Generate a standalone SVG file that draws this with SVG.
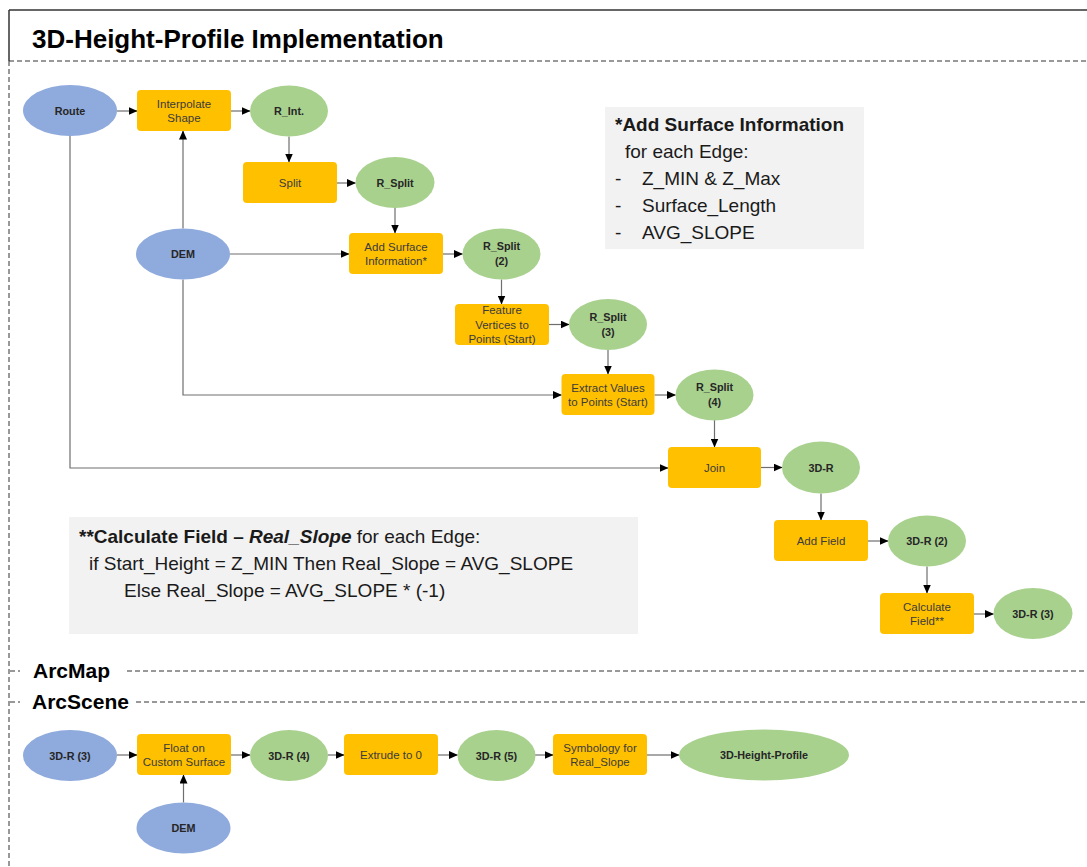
<svg xmlns="http://www.w3.org/2000/svg" width="1087" height="867" viewBox="0 0 1087 867">
<defs>
<marker id="ah" markerUnits="userSpaceOnUse" markerWidth="9" markerHeight="8" refX="8.5" refY="4" orient="auto">
<path d="M0,0 L9,4 L0,8 Z" fill="#000"/>
</marker>
<style>
.bl{fill:#8faadc}
.gr{fill:#a9d18e}
.or{fill:#ffc000}
.tr{font-family:"Liberation Sans",Arial,sans-serif;font-size:11.5px;fill:#3b3b3b;text-anchor:middle}
.te{font-family:"Liberation Sans",Arial,sans-serif;font-size:10.8px;font-weight:bold;fill:#262626;text-anchor:middle}
.cn line,.cn path{stroke:#6e6e6e;stroke-width:1.2;fill:none;marker-end:url(#ah)}
.note{fill:#f2f2f2}
.nt{font-family:"Liberation Sans",Arial,sans-serif;font-size:19px;fill:#1a1a1a}
.sec{font-family:"Liberation Sans",Arial,sans-serif;font-size:21px;font-weight:bold;fill:#000}
.dl{stroke:#333;stroke-width:1;stroke-dasharray:5,3;fill:none}
</style>
</defs>
<rect width="1087" height="867" fill="#fff"/>
<!-- frame -->
<g id="frame">
<line x1="9" y1="10" x2="1087" y2="10" stroke="#333" stroke-width="1.5"/>
<line x1="9" y1="10" x2="9" y2="61" stroke="#333" stroke-width="1.5"/>
<line class="dl" x1="9" y1="61" x2="9" y2="867"/>
<line class="dl" x1="9" y1="61" x2="1087" y2="61"/>
<text x="32" y="48" font-family="Liberation Sans,Arial,sans-serif" font-size="26" font-weight="bold" fill="#000">3D-Height-Profile Implementation</text>
<line class="dl" x1="10" y1="671" x2="20" y2="671"/>
<line class="dl" x1="127" y1="671" x2="1087" y2="671"/>
<text class="sec" x="33" y="678">ArcMap</text>
<line class="dl" x1="10" y1="702" x2="20" y2="702"/>
<line class="dl" x1="136" y1="702" x2="1087" y2="702"/>
<text class="sec" x="32" y="709">ArcScene</text>
</g>
<!-- notes -->
<g id="note-surface">
<rect class="note" x="605" y="107" width="259" height="142"/>
<text class="nt" x="615" y="131" font-weight="bold">*Add Surface Information</text>
<text class="nt" x="625" y="158">for each Edge:</text>
<text class="nt" x="615" y="185">-</text><text class="nt" x="642" y="185">Z_MIN &amp; Z_Max</text>
<text class="nt" x="615" y="212">-</text><text class="nt" x="642" y="212">Surface_Length</text>
<text class="nt" x="615" y="239">-</text><text class="nt" x="642" y="239">AVG_SLOPE</text>
</g>
<g id="note-calc">
<rect class="note" x="69" y="517" width="569" height="117"/>
<text class="nt" x="79" y="543"><tspan font-weight="bold">**Calculate Field – </tspan><tspan font-weight="bold" font-style="italic">Real_Slope</tspan><tspan> for each Edge:</tspan></text>
<text class="nt" x="89" y="570">if Start_Height = Z_MIN Then Real_Slope = AVG_SLOPE</text>
<text class="nt" x="124" y="597">Else Real_Slope = AVG_SLOPE * (-1)</text>
</g>
<!-- connectors -->
<g id="connectors" class="cn">
<line x1="117" y1="111" x2="137" y2="111"/>
<line x1="231" y1="111" x2="250" y2="111"/>
<line x1="289" y1="136.5" x2="289" y2="162"/>
<line x1="337" y1="183" x2="355.5" y2="183"/>
<line x1="395" y1="208" x2="395" y2="233"/>
<line x1="183" y1="228.5" x2="183" y2="131"/>
<line x1="230" y1="254" x2="349" y2="254"/>
<line x1="443" y1="254" x2="462.5" y2="254"/>
<line x1="501.5" y1="279.5" x2="501.5" y2="304"/>
<line x1="549" y1="324.5" x2="569" y2="324.5"/>
<line x1="608" y1="350" x2="608" y2="374"/>
<path d="M183,279.5 V395 H561.5"/>
<line x1="654.5" y1="395" x2="675.5" y2="395"/>
<line x1="714.5" y1="420" x2="714.5" y2="447"/>
<path d="M70,136 V468 H668"/>
<line x1="761" y1="467.5" x2="782" y2="467.5"/>
<line x1="821" y1="493.5" x2="821" y2="520"/>
<line x1="868" y1="541" x2="888" y2="541"/>
<line x1="927" y1="566.5" x2="927" y2="593"/>
<line x1="974" y1="614" x2="993.5" y2="614"/>
<line x1="117" y1="755" x2="137" y2="755"/>
<line x1="231" y1="755" x2="250" y2="755"/>
<line x1="328" y1="755" x2="344" y2="755"/>
<line x1="438" y1="755" x2="457.5" y2="755"/>
<line x1="535" y1="755" x2="553" y2="755"/>
<line x1="647" y1="755" x2="679" y2="755"/>
<line x1="183.5" y1="802.5" x2="183.5" y2="775"/>
</g>
<!-- nodes -->
<g id="route"><ellipse class="bl" cx="70" cy="110.5" rx="47" ry="25.5"/><text class="te" x="70" y="114.5">Route</text></g>
<g id="interpolate"><rect class="or" x="137" y="90" width="94" height="41" rx="4"/><text class="tr" x="184" y="107.5">Interpolate</text><text class="tr" x="184" y="122">Shape</text></g>
<g id="r-int"><ellipse class="gr" cx="289" cy="111" rx="39" ry="25.5"/><text class="te" x="289" y="115">R_Int.</text></g>
<g id="split"><rect class="or" x="243" y="162" width="94" height="41" rx="4"/><text class="tr" x="290" y="186.5">Split</text></g>
<g id="r-split"><ellipse class="gr" cx="395" cy="182.5" rx="39.5" ry="25.5"/><text class="te" x="395" y="186.5">R_Split</text></g>
<g id="dem"><ellipse class="bl" cx="183" cy="254" rx="47" ry="25.5"/><text class="te" x="183" y="258">DEM</text></g>
<g id="add-surface"><rect class="or" x="349" y="233" width="94" height="41" rx="4"/><text class="tr" x="396" y="250.5">Add Surface</text><text class="tr" x="396" y="265">Information*</text></g>
<g id="r-split-2"><ellipse class="gr" cx="501.5" cy="254" rx="39" ry="25.5"/><text class="te" x="501.5" y="250.3">R_Split</text><text class="te" x="501.5" y="265.3">(2)</text></g>
<g id="feature-vertices"><rect class="or" x="455" y="304" width="94" height="41" rx="4"/><text class="tr" x="502" y="314">Feature</text><text class="tr" x="502" y="328.5">Vertices  to</text><text class="tr" x="502" y="343">Points (Start)</text></g>
<g id="r-split-3"><ellipse class="gr" cx="608" cy="324.5" rx="39" ry="25.5"/><text class="te" x="608" y="320.8">R_Split</text><text class="te" x="608" y="335.8">(3)</text></g>
<g id="extract"><rect class="or" x="561.5" y="374" width="93" height="41" rx="4"/><text class="tr" x="608" y="391.5">Extract Values</text><text class="tr" x="608" y="406">to Points (Start)</text></g>
<g id="r-split-4"><ellipse class="gr" cx="714.5" cy="395" rx="39" ry="25.5"/><text class="te" x="714.5" y="391.3">R_Split</text><text class="te" x="714.5" y="406.3">(4)</text></g>
<g id="join"><rect class="or" x="668" y="447" width="93" height="41" rx="4"/><text class="tr" x="714.5" y="471.5">Join</text></g>
<g id="r3d"><ellipse class="gr" cx="821" cy="467.5" rx="39" ry="26"/><text class="te" x="821" y="471.5">3D-R</text></g>
<g id="add-field"><rect class="or" x="774" y="520" width="94" height="41" rx="4"/><text class="tr" x="821" y="544.5">Add Field</text></g>
<g id="r3d-2"><ellipse class="gr" cx="927" cy="541" rx="39" ry="25.5"/><text class="te" x="927" y="545">3D-R (2)</text></g>
<g id="calc-field"><rect class="or" x="880" y="593" width="94" height="41" rx="4"/><text class="tr" x="927" y="610.5">Calculate</text><text class="tr" x="927" y="625">Field**</text></g>
<g id="r3d-3"><ellipse class="gr" cx="1033" cy="613.5" rx="39.5" ry="25.5"/><text class="te" x="1033" y="617.5">3D-R (3)</text></g>
<g id="s-r3d-3"><ellipse class="bl" cx="70" cy="755.5" rx="47" ry="25.5"/><text class="te" x="70" y="759.5">3D-R (3)</text></g>
<g id="float"><rect class="or" x="137" y="734" width="94" height="41" rx="4"/><text class="tr" x="184" y="751.5">Float on</text><text class="tr" x="184" y="766">Custom Surface</text></g>
<g id="s-r3d-4"><ellipse class="gr" cx="289" cy="755.5" rx="39" ry="25.5"/><text class="te" x="289" y="759.5">3D-R (4)</text></g>
<g id="extrude"><rect class="or" x="344" y="734" width="94" height="41" rx="4"/><text class="tr" x="391" y="758.5">Extrude to 0</text></g>
<g id="s-r3d-5"><ellipse class="gr" cx="496.5" cy="755.5" rx="39" ry="25.5"/><text class="te" x="496.5" y="759.5">3D-R (5)</text></g>
<g id="symbology"><rect class="or" x="553" y="734" width="94" height="41" rx="4"/><text class="tr" x="600" y="751.5">Symbology for</text><text class="tr" x="600" y="766">Real_Slope</text></g>
<g id="height-profile"><ellipse class="gr" cx="764" cy="755" rx="85" ry="25.5"/><text class="te" x="764" y="759">3D-Height-Profile</text></g>
<g id="s-dem"><ellipse class="bl" cx="183.5" cy="828" rx="47" ry="25.5"/><text class="te" x="183.5" y="832">DEM</text></g>
</svg>
